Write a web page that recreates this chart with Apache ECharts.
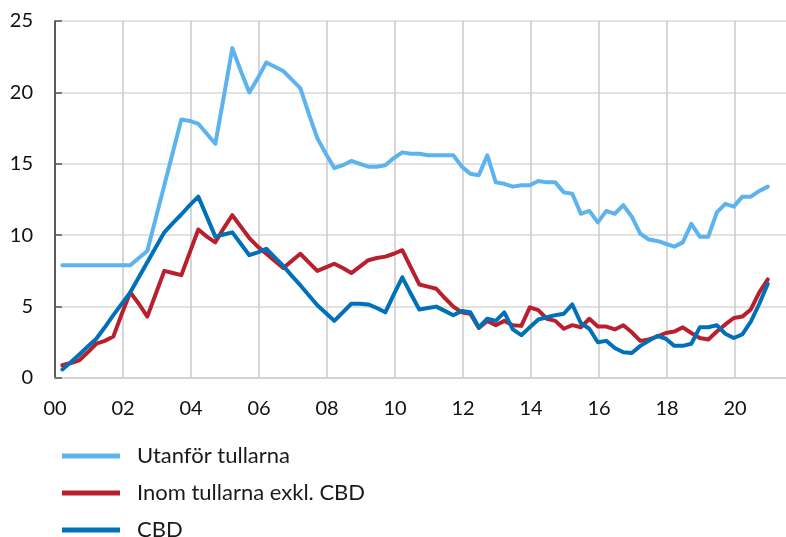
<!DOCTYPE html>
<html>
<head>
<meta charset="utf-8">
<script src="https://cdn.jsdelivr.net/npm/echarts@6/dist/echarts.min.js"></script>
<style>
  html, body { margin: 0; padding: 0; background: #fff; }
  #chart { width: 786px; height: 537px; }
</style>
</head>
<body>
<div id="chart"></div>
<script>
// quarterly data 2000 K1 .. 2020 K4
const years = [];
for (let y = 2000; y <= 2020; y++) years.push(y);
const quarters = [1, 2, 3, 4];

const seriesNames = ["Utanför tullarna", "Inom tullarna exkl. CBD", "CBD"];
const seriesColors = ["#5cb3ee", "#b8202e", "#0071b9"];

const utanfor = [
  7.9, 7.9, 7.9, 7.9, 7.9, 7.9, 7.9, 7.9, 7.9, 8.4,
  8.9, 11.2, 13.5, 15.8, 18.1, 18.0, 17.8, 17.1, 16.4, 19.7,
  23.1, 21.5, 20.0, 21.0, 22.1, 21.8, 21.5, 20.9, 20.3, 18.5,
  16.8, 15.7, 14.7, 14.9, 15.2, 15.0, 14.8, 14.8, 14.9, 15.4,
  15.8, 15.7, 15.7, 15.6, 15.6, 15.6, 15.6, 14.8, 14.3, 14.2,
  15.6, 13.7, 13.6, 13.4, 13.5, 13.5, 13.8, 13.7, 13.7, 13.0,
  12.9, 11.5, 11.7, 10.9, 11.7, 11.5, 12.1, 11.3, 10.1, 9.7,
  9.6, 9.4, 9.2, 9.5, 10.8, 9.9, 9.9, 11.6, 12.2, 12.0,
  12.7, 12.7, 13.1, 13.4
];

const inomTullarna = [
  0.9, 1.05, 1.24, 1.8, 2.4, 2.6, 2.9, 4.5, 6.0, 5.2,
  4.3, 5.9, 7.5, 7.35, 7.2, 8.8, 10.4, 9.9, 9.5, 10.5,
  11.4, 10.6, 9.8, 9.2, 8.7, 8.2, 7.7, 8.2, 8.7, 8.1,
  7.5, 7.75, 8.0, 7.7, 7.35, 7.8, 8.25, 8.4, 8.5, 8.7,
  8.95, 7.75, 6.55, 6.4, 6.25, 5.6, 5.0, 4.6, 4.5, 3.5,
  4.0, 3.7, 4.0, 3.7, 3.65, 4.95, 4.75, 4.15, 4.0, 3.45,
  3.7, 3.55, 4.15, 3.6, 3.6, 3.4, 3.7, 3.2, 2.6, 2.7,
  2.9, 3.15, 3.25, 3.55, 3.15, 2.8, 2.7, 3.25, 3.75, 4.2,
  4.3, 4.8, 6.0, 6.9
];

const cbd = [
  0.6, 1.1, 1.65, 2.2, 2.75, 3.55, 4.4, 5.2, 6.0, 7.05,
  8.1, 9.15, 10.2, 10.85, 11.45, 12.1, 12.7, 11.3, 9.9, 10.05,
  10.2, 9.4, 8.6, 8.8, 9.05, 8.45, 7.85, 7.15, 6.5, 5.8,
  5.1, 4.55, 4.0, 4.6, 5.2, 5.2, 5.15, 4.9, 4.6, 5.85,
  7.05, 5.9, 4.8, 4.9, 5.0, 4.7, 4.4, 4.7, 4.6, 3.55,
  4.15, 4.0, 4.6, 3.4, 3.0, 3.55, 4.1, 4.25, 4.4, 4.5,
  5.15, 3.85, 3.45, 2.5, 2.6, 2.1, 1.8, 1.75, 2.25, 2.6,
  2.95, 2.75, 2.25, 2.25, 2.4, 3.55, 3.55, 3.7, 3.1, 2.8,
  3.05, 3.95, 5.2, 6.6
];

const xTicks = ["00", "02", "04", "06", "08", "10", "12", "14", "16", "18", "20"];

// each quarter sits close to its last month on the year axis
let quarterPos = [];
for (const y of years) {
  for (const q of quarters) {
    quarterPos.push(y - 2000 + q / 4 - 0.035);
  }
}

function pairUp(values) {
  return values.map((v, i) => [quarterPos[i], v]);
}

function legendRow(name, top) {
  return {
    orient: "vertical",
    left: 57,
    top: top,
    icon: "rect",
    itemWidth: 58,
    itemHeight: 5,
    textStyle: {
      fontFamily: "Lato",
      fontSize: 22,
      lineHeight: 20,
      color: "#1a1a1a",
      padding: [0, 0, 0, 12],
    },
    data: [name],
  };
}

setTimeout(() => {
  let chartDom = document.getElementById("chart");
  let myChart = echarts.init(chartDom);
  let option;

  const FONT = "Lato";

  option = {
    animation: false,
    color: [...seriesColors],
    // plot runs on past the right edge of the picture
    grid: {
      left: 55,
      width: 748,
      top: 21,
      bottom: 159,
      containLabel: false,
      outerBoundsMode: "none",
    },
    legend: [
      legendRow(seriesNames[0], 440),
      legendRow(seriesNames[1], 477),
      legendRow(seriesNames[2], 514),
    ],
    xAxis: {
      type: "value",
      min: 0,
      max: 22,
      interval: 2,
      axisLine: { show: true, lineStyle: { color: "#d0d0d0", width: 1.5 } },
      axisTick: { show: false },
      splitLine: { show: true, lineStyle: { color: "#c8c8c8", width: 1.5 } },
      axisLabel: {
        fontFamily: FONT,
        fontSize: 20,
        color: "#111",
        margin: 21,
        formatter: (value) => xTicks[value / 2] || "",
      },
    },
    yAxis: {
      type: "value",
      min: 0,
      max: 25,
      interval: 5,
      axisLine: { show: true, lineStyle: { color: "#333", width: 1.5 } },
      axisTick: { show: true, inside: true, length: 7, lineStyle: { color: "#555", width: 1.5 } },
      splitLine: { show: true, lineStyle: { color: "#d9d9d9", width: 1.5 } },
      axisLabel: {
        fontFamily: FONT,
        fontSize: 20,
        color: "#111",
        margin: 22,
      },
    },
    series: [
      {
        name: seriesNames[0],
        type: "line",
        data: pairUp(utanfor),
        symbol: "none",
        itemStyle: { color: seriesColors[0] },
        lineStyle: { color: seriesColors[0], width: 4, cap: "round", join: "round" },
      },
      {
        name: seriesNames[1],
        type: "line",
        data: pairUp(inomTullarna),
        symbol: "none",
        itemStyle: { color: seriesColors[1] },
        lineStyle: { color: seriesColors[1], width: 4, cap: "round", join: "round" },
      },
      {
        name: seriesNames[2],
        type: "line",
        data: pairUp(cbd),
        symbol: "none",
        itemStyle: { color: seriesColors[2] },
        lineStyle: { color: seriesColors[2], width: 4, cap: "round", join: "round" },
      },
    ],
  };

  option && myChart.setOption(option);
}, 0);
</script>
</body>
</html>
